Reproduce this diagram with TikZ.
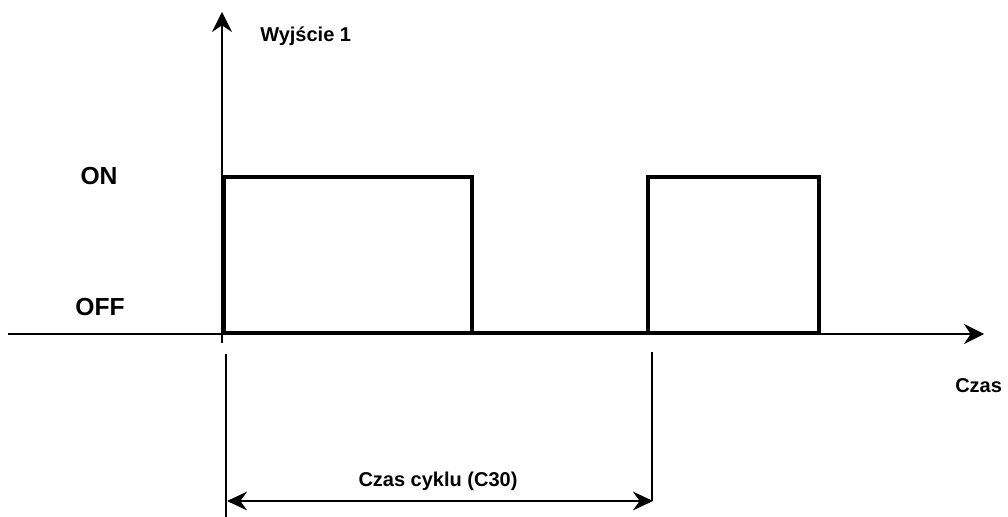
\documentclass[tikz,border=0pt]{standalone}
\usepackage{fontspec}
\setmainfont{Liberation Sans}
\usetikzlibrary{arrows.meta}
\begin{document}
\begin{tikzpicture}[x=0.75pt,y=-0.75pt,
  tip/.style={Stealth[length=15pt,width=15pt,inset=5pt]},
  axis/.style={line width=1.1pt,-{Stealth[length=15pt,width=15pt,inset=5pt]}},
  signal/.style={line width=3.3pt,line join=miter},
  guide/.style={line width=0.8pt},
  dimline/.style={line width=1.1pt,{Stealth[length=15pt,width=14pt,inset=5pt]}-{Stealth[length=15pt,width=14pt,inset=5pt]}},
  lbl/.style={font=\bfseries\fontsize{15}{18}\selectfont,inner sep=0pt},
  lvl/.style={font=\bfseries\fontsize{18.5}{22}\selectfont,inner sep=0pt}]
\useasboundingbox (0,0) rectangle (1008,517);

% axes
\coordinate (xstart) at (8,334);
\coordinate (xend) at (984,334);
\coordinate (ystart) at (222,343);
\coordinate (yend) at (222,12);
\draw[axis] (ystart) -- (yend);
\draw[axis] (xstart) -- (xend);

% output waveform
\coordinate (p0) at (224,333);
\coordinate (p1) at (224,177);
\coordinate (p2) at (472,177);
\coordinate (p3) at (472,333);
\coordinate (p4) at (648,333);
\coordinate (p5) at (648,177);
\coordinate (p6) at (819,177);
\coordinate (p7) at (819,333);
\draw[signal] (p0) -- (p1) -- (p2) -- (p3) -- (p4) -- (p5) -- (p6) -- (p7) -- cycle;
\draw[signal] (p3) -- (p0);

% cycle time dimension
\coordinate (e1a) at (226,354);
\coordinate (e1b) at (226,517);
\coordinate (e2a) at (652,352);
\coordinate (e2b) at (652,501);
\draw[guide] (e1a) -- (e1b);
\draw[guide] (e2a) -- (e2b);
\coordinate (d1) at (227,501);
\coordinate (d2) at (653,501);
\draw[dimline] (d1) -- (d2);

% labels
\node[lbl,anchor=west] (yl) at (260,36) {Wyjście 1};
\node[lvl] (on) at (99,176) {ON};
\node[lvl] (off) at (100,307) {OFF};
\node[lbl,anchor=west] (xl) at (955,386) {Czas};
\node[lbl] (cyc) at (438,481) {Czas cyklu (C30)};
\end{tikzpicture}
\end{document}
